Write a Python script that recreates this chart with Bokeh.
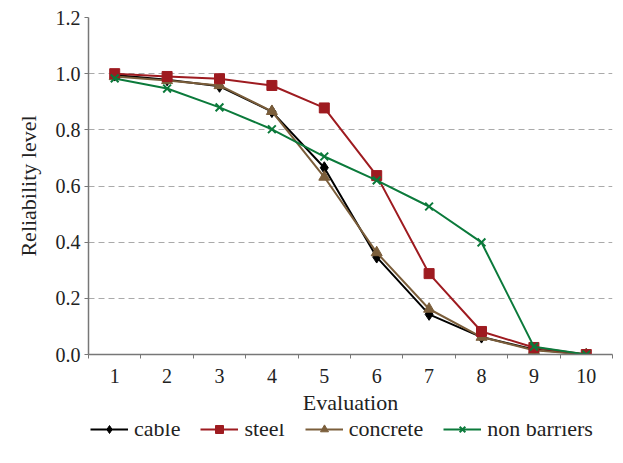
from bokeh.plotting import figure
from bokeh.layouts import column
from bokeh.models import FixedTicker, Legend, LegendItem, Range1d, CustomJSTickFormatter
from bokeh.embed import file_html
from bokeh.resources import INLINE

evaluation = [1, 2, 3, 4, 5, 6, 7, 8, 9, 10]
cable = [0.995, 0.978, 0.955, 0.865, 0.665, 0.347, 0.143, 0.062, 0.018, 0.0]
steel = [1.0, 0.99, 0.982, 0.958, 0.878, 0.637, 0.288, 0.082, 0.025, 0.0]
concrete = [0.99, 0.976, 0.958, 0.866, 0.632, 0.363, 0.162, 0.062, 0.015, 0.0]
non_barriers = [0.983, 0.947, 0.88, 0.802, 0.705, 0.62, 0.527, 0.399, 0.028, 0.0]
y_ticks = [0.0, 0.2, 0.4, 0.6, 0.8, 1.0, 1.2]

FONT = "Liberation Serif"

series = [
    ("cable", cable, "black", "diamond", 12),
    ("concrete", concrete, "#7b5e3b", "triangle", 11),
    ("steel", steel, "#9e1b20", "square", 10),
    ("non barriers", non_barriers, "#0b7a3b", "x", 11),
]
legend_order = ["cable", "steel", "concrete", "non barriers"]


def draw(fig):
    rs = {}
    for name, vals, color, marker, size in series:
        ln = fig.line(evaluation, vals, line_color=color, line_width=2)
        if marker == "x":
            mk = fig.scatter(evaluation, vals, marker=marker, size=size, line_color=color, line_width=2)
        else:
            mk = fig.scatter(evaluation, vals, marker=marker, size=size, fill_color=color, line_color=color)
        rs[name] = [ln, mk]
    return rs


p = figure(frame_width=524, frame_height=337, output_backend="svg", toolbar_location=None,
           x_range=Range1d(0.5, 10.5), y_range=Range1d(0, 1.2),
           min_border_left=88, min_border_right=8, min_border_top=17, min_border_bottom=70)
p.outline_line_color = None
p.background_fill_color = "white"
p.border_fill_color = "white"

p.xgrid.grid_line_color = None
p.ygrid.grid_line_color = "#aaaaaa"
p.ygrid.grid_line_dash = "6 4"
p.ygrid.grid_line_width = 1.2

p.xaxis.ticker = FixedTicker(ticks=evaluation, minor_ticks=[x + 0.5 for x in range(0, 11)])
p.xaxis.major_tick_out = 0
p.xaxis.major_tick_in = 0
p.xaxis.minor_tick_out = 4
p.xaxis.minor_tick_in = 0
p.xaxis.minor_tick_line_color = "#777777"
p.xaxis.axis_label = "Evaluation"

p.yaxis.ticker = FixedTicker(ticks=y_ticks, minor_ticks=[])
p.yaxis.major_tick_out = 4
p.yaxis.major_tick_in = 0
p.yaxis.formatter = CustomJSTickFormatter(code="return tick.toFixed(1);")
p.yaxis.axis_label = "Reliability level"

for ax in (p.xaxis, p.yaxis):
    ax.axis_line_color = "#777777"
    ax.axis_line_width = 1.5
    ax.major_tick_line_color = "#777777"
    ax.major_label_text_font = FONT
    ax.major_label_text_font_size = "20px"
    ax.major_label_text_color = "#222222"
    ax.axis_label_text_font = FONT
    ax.axis_label_text_font_size = "22px"
    ax.axis_label_text_font_style = "normal"
    ax.axis_label_text_color = "#222222"
p.xaxis.major_label_standoff = 10
p.xaxis.axis_label_standoff = 4
p.yaxis.major_label_standoff = 4
p.yaxis.axis_label_standoff = 12

draw(p)

# Legend strip: same series drawn in a small figure whose range keeps them out of view
lf = figure(width=620, height=42, output_backend="svg", toolbar_location=None,
            x_range=Range1d(100, 101), y_range=Range1d(100, 101),
            min_border_left=0, min_border_right=0, min_border_top=0, min_border_bottom=0)
lf.axis.visible = False
lf.grid.visible = False
lf.outline_line_color = None
lrs = draw(lf)

legend = Legend(items=[LegendItem(label=n, renderers=lrs[n]) for n in legend_order],
                orientation="horizontal", location=(2, 24),
                label_text_font=FONT, label_text_font_size="22px", label_text_color="#222222",
                border_line_color=None, background_fill_alpha=0, glyph_width=38, glyph_height=20,
                label_height=22, spacing=20, label_standoff=6, margin=0, padding=0)
lf.add_layout(legend, "center")

layout = column(p, lf, spacing=0)
open("out.html", "w").write(file_html(layout, INLINE))
